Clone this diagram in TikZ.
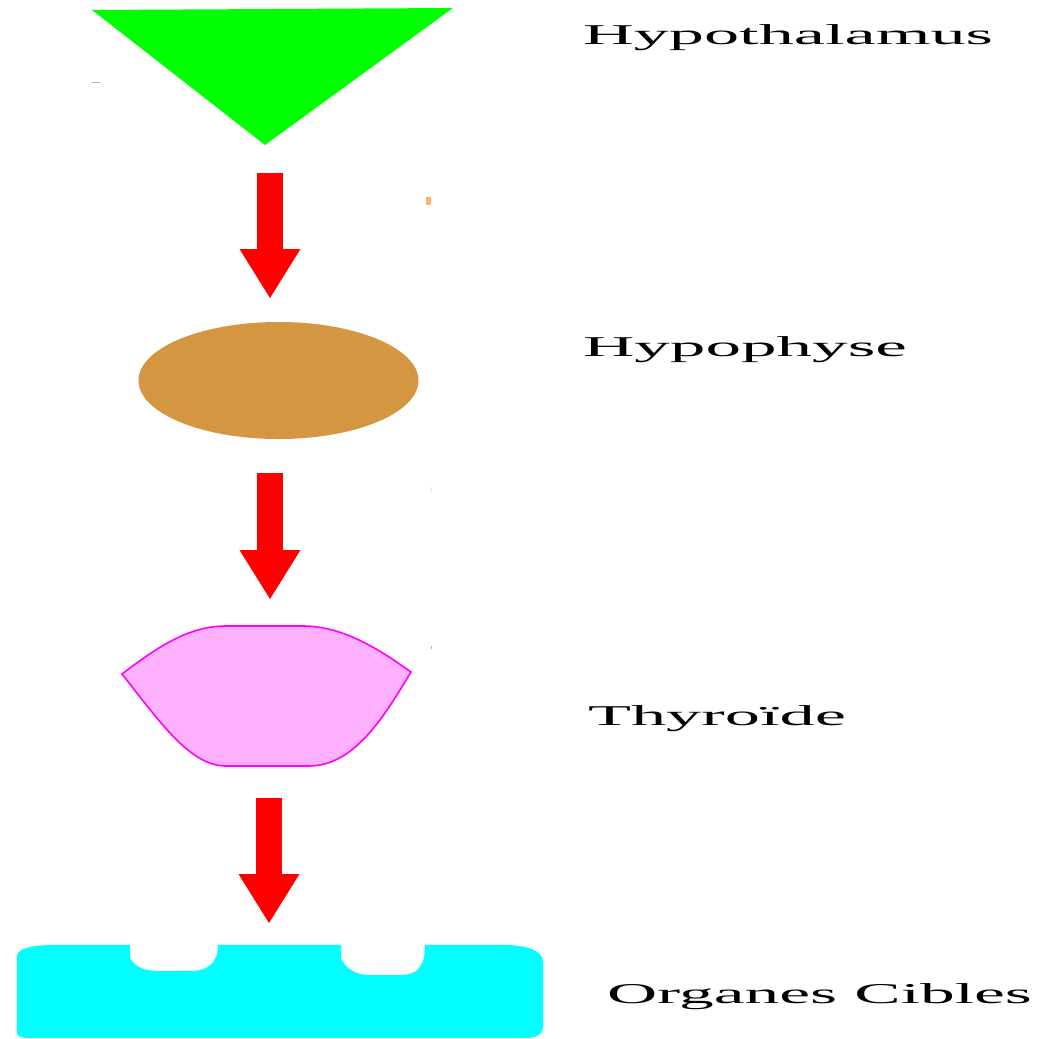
\documentclass[tikz,border=0pt]{standalone}
\usepackage{fontspec}
\usepackage{graphicx}
\setmainfont{Liberation Serif}
\usetikzlibrary{arrows.meta,shapes.geometric}

\definecolor{hypogreen}{RGB}{0,255,0}
\definecolor{glandbrown}{RGB}{212,150,64}
\definecolor{thyrpink}{RGB}{255,176,255}
\definecolor{thyrline}{RGB}{255,0,255}
\definecolor{organcyan}{RGB}{0,255,255}
\definecolor{flowred}{RGB}{255,0,0}

\tikzset{
  flow/.style={draw=flowred, line width=26pt, line cap=butt,
    -{Triangle[length=49pt, width=61pt, line width=0pt, fill=flowred]}},
  label/.style={anchor=base west, inner sep=0pt, outer sep=0pt,
    font=\fontsize{28.7}{30}\selectfont, text=black},
}

\begin{document}
\begin{tikzpicture}[x=1pt, y=-1pt]
  \useasboundingbox (0,0) rectangle (1039,1039);

  % hypothalamus: inverted triangle
  \coordinate (triTL) at (92,10);
  \coordinate (triTR) at (453,8);
  \coordinate (triApex) at (265,145);
  \fill[hypogreen] (triTL) -- (triTR) -- (triApex) -- cycle;

  % pituitary: ellipse
  \node[draw=none, fill=glandbrown, ellipse, minimum width=280pt,
        minimum height=117pt, inner sep=0pt] (hypophyse) at (278.5,380.5) {};

  % thyroid lobe
  \coordinate (thyrL) at (122,674);
  \coordinate (thyrR) at (411,672);
  \filldraw[fill=thyrpink, draw=thyrline, line width=1.6pt]
    (thyrL) .. controls (160,645) and (190,626) .. (226,626)
    -- (305,626) .. controls (345,627) and (380,650) .. (thyrR)
    .. controls (385,715) and (355,766) .. (309,766)
    -- (226,766) .. controls (190,766) and (160,722) .. (thyrL) -- cycle;

  % target organs: rounded block with two receptor notches
  \fill[organcyan]
    (17,956) .. controls (17,948) and (35,945) .. (52,945)
    -- (130,945) -- (130,958) .. controls (136,968) and (145,971) .. (160,971)
    -- (190,971) .. controls (208,971) and (218,963) .. (218,945)
    -- (341,945) -- (341,959) .. controls (348,971) and (358,975) .. (370,975)
    -- (401,975) .. controls (418,975) and (425,966) .. (425,945)
    -- (504,945) .. controls (525,945) and (543,950) .. (543,962)
    -- (543,1027) .. controls (543,1035) and (535,1038) .. (526,1038)
    -- (30,1038) .. controls (20,1038) and (17,1036) .. (17,1032) -- cycle;

  % small marks
  \fill[gray!60] (92,81.5) rectangle (100,83);
  \fill[orange!60] (426,197) rectangle (431,205);
  \fill[orange!25] (430.5,487) rectangle (431.5,492);
  \fill[blue!35] (430.5,646) rectangle (431.5,649);

  % signal arrows
  \coordinate (arrA1) at (270,173);
  \coordinate (arrA2) at (270,298);
  \coordinate (arrB1) at (270,473);
  \coordinate (arrB2) at (270,599);
  \coordinate (arrC1) at (269,798);
  \coordinate (arrC2) at (269,923);
  \draw[flow] (arrA1) -- (arrA2);
  \draw[flow] (arrB1) -- (arrB2);
  \draw[flow] (arrC1) -- (arrC2);

  % labels
  \node[label] (tHypothalamus) at (583,44) {\resizebox{410pt}{\height}{Hypothalamus}};
  \node[label] (tHypophyse) at (583,356) {\resizebox{324pt}{\height}{Hypophyse}};
  \node[label] (tThyroide) at (588,725) {\resizebox{258pt}{\height}{Thyroïde}};
  \node[label] (tOrganes) at (607,1003) {\resizebox{425pt}{\height}{Organes Cibles}};
\end{tikzpicture}
\end{document}
